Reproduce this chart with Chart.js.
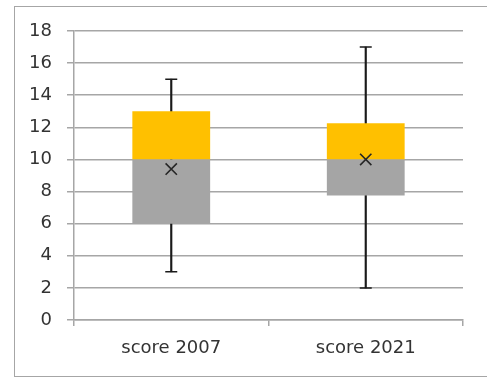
<!DOCTYPE html>
<html>
<head>
<meta charset="utf-8">
<script src="https://cdn.jsdelivr.net/npm/chart.js@4"></script>
<style>
  html, body { margin: 0; background: #fff; overflow: hidden; width: 487px; height: 378px; }
  #frame { position: absolute; left: 14px; top: 6px; width: 473px; height: 371px; border: 1.5px solid #a6a6a6; border-right: none; box-sizing: border-box; }
  #wrap { position: absolute; left: 0; top: 0; width: 487px; height: 378px; }
</style>
</head>
<body>
<div id="frame"></div>
<div id="wrap"><canvas id="box-chart"></canvas></div>
<script>
// box plot values
const categories = ["score 2007", "score 2021"];
const minVals = [3, 2];
const q1Vals = [6, 7.75];
const medianVals = [10, 10];
const q3Vals = [13, 12.25];
const maxVals = [15, 17];
const meanVals = [9.4, 10];

const gridGray = "#a6a6a6";
const textColor = "#333333";
const font = { family: "DejaVu Sans", size: 18 };

const dataObj = {
    labels: categories,
    datasets: [
        {
            // whisker line, min to max, sits behind the boxes
            type: "bar",
            data: categories.map((c, i) => [minVals[i], maxVals[i]]),
            backgroundColor: "#1a1a1a",
            barThickness: 1.5,
            order: 3
        },
        {
            type: "bar",
            data: categories.map((c, i) => [q1Vals[i], medianVals[i]]),
            backgroundColor: "#a5a5a5",
            barPercentage: 0.4,
            categoryPercentage: 1,
            order: 2
        },
        {
            type: "bar",
            data: categories.map((c, i) => [medianVals[i], q3Vals[i]]),
            backgroundColor: "#ffc000",
            barPercentage: 0.4,
            categoryPercentage: 1,
            order: 2
        },
        {
            // whisker caps
            type: "line",
            data: maxVals,
            showLine: false,
            pointStyle: "line",
            pointRadius: 6,
            borderWidth: 1.5,
            borderColor: "#1a1a1a",
            order: 1
        },
        {
            type: "line",
            data: minVals,
            showLine: false,
            pointStyle: "line",
            pointRadius: 6,
            borderWidth: 1.5,
            borderColor: "#1a1a1a",
            order: 1
        },
        {
            // mean marker
            type: "line",
            data: meanVals,
            showLine: false,
            pointStyle: "crossRot",
            pointRadius: 8,
            borderWidth: 1.6,
            borderColor: "#262626",
            order: 0
        }
    ]
};

new Chart("box-chart", {
    type: "bar",
    data: dataObj,
    options: {
        responsive: true,
        maintainAspectRatio: false,
        animation: false,
        layout: { padding: { left: 14, right: 24, top: 31, bottom: 0 } },
        plugins: {
            legend: { display: false },
            tooltip: { enabled: false }
        },
        scales: {
            x: {
                stacked: true,
                grid: { offset: true, drawOnChartArea: false, color: gridGray, lineWidth: 1.5, tickLength: 6 },
                border: { display: true, color: gridGray, width: 1.5 },
                ticks: { color: textColor, font: font, padding: 12 },
                afterFit: (scale) => { scale.height = 58; }
            },
            y: {
                stacked: false,
                min: 0,
                max: 18,
                ticks: { stepSize: 2, color: textColor, font: font, padding: 15 },
                grid: { color: gridGray, lineWidth: 1.5, tickLength: 7 },
                border: { display: true, color: gridGray, width: 1.5 },
                afterFit: (scale) => { scale.width = 60; }
            }
        }
    }
});
</script>
</body>
</html>
